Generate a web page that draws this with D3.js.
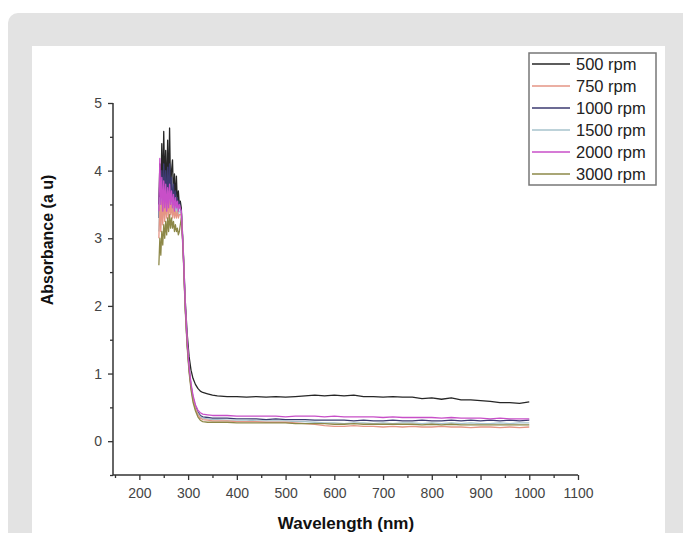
<!DOCTYPE html>
<html>
<head>
<meta charset="utf-8">
<script src="https://cdn.jsdelivr.net/npm/d3@7"></script>
<style>
  body { margin: 0; background: #fff; }
  svg { display: block; font-family: "Liberation Sans", Arial, sans-serif; }
  .axis path, .axis line { stroke: #333; }
  .axis text { fill: #444; font-size: 14px; }
</style>
</head>
<body>
<svg id="chart" width="683" height="533"></svg>
<script>
// wavelength grid (nm)
const wavelengths = [
  240, 242, 244, 246, 248, 250, 252, 254, 256, 258, 260, 262, 264,
  266, 268, 270, 272, 274, 276, 278, 280, 282, 284, 286, 288, 290,
  294, 298, 302, 306, 310, 315, 320, 325, 330, 340, 350,
  360, 380, 400, 420, 440, 460, 480, 500, 520, 540, 560, 580, 600,
  620, 640, 660, 680, 700, 720, 740, 760, 780, 800, 820, 840, 860,
  880, 900, 920, 940, 960, 980, 1000
];

const seriesNames = ['500 rpm', '750 rpm', '1000 rpm', '1500 rpm', '2000 rpm', '3000 rpm'];
const seriesColors = ['#262626', '#e59585', '#3b3a70', '#a7c3cc', '#c84fc8', '#8d8848'];

const abs500 = [
  3.5, 4.1, 3.6, 4.4, 3.7, 4.58, 3.8, 4.3, 3.6, 4.45, 3.7, 4.63, 3.7,
  4.0, 4.16, 3.6, 3.95, 3.55, 3.92, 3.5, 3.7, 3.5, 3.55, 3.45, 3.15, 2.85,
  2.1, 1.6, 1.25, 1.05, 0.93, 0.84, 0.78, 0.74, 0.72, 0.70, 0.68,
  0.67, 0.66, 0.66, 0.65, 0.66, 0.65, 0.66, 0.65, 0.66, 0.67, 0.68, 0.67, 0.68,
  0.67, 0.68, 0.66, 0.66, 0.65, 0.66, 0.65, 0.65, 0.63, 0.64, 0.62, 0.64, 0.61,
  0.61, 0.60, 0.59, 0.57, 0.57, 0.56, 0.58
];
const abs750 = [
  3.0, 3.5, 3.1, 3.55, 3.2, 3.6, 3.25, 3.55, 3.3, 3.6, 3.3, 3.55, 3.35,
  3.5, 3.3, 3.45, 3.3, 3.4, 3.3, 3.4, 3.3, 3.35, 3.35, 3.35, 3.1, 2.8,
  2.0, 1.45, 1.05, 0.8, 0.62, 0.48, 0.39, 0.34, 0.32, 0.31, 0.30,
  0.30, 0.30, 0.29, 0.29, 0.29, 0.28, 0.28, 0.28, 0.27, 0.26, 0.25, 0.23, 0.22,
  0.22, 0.23, 0.22, 0.22, 0.21, 0.22, 0.21, 0.22, 0.21, 0.21, 0.22, 0.21, 0.21,
  0.20, 0.21, 0.21, 0.20, 0.21, 0.20, 0.21
];
const abs1000 = [
  3.3, 3.9, 3.4, 4.0, 3.5, 4.1, 3.6, 4.0, 3.5, 4.05, 3.6, 4.1, 3.55,
  3.9, 3.5, 3.8, 3.45, 3.7, 3.45, 3.6, 3.4, 3.55, 3.45, 3.4, 3.1, 2.8,
  2.0, 1.45, 1.08, 0.82, 0.65, 0.51, 0.43, 0.38, 0.36, 0.35, 0.34,
  0.34, 0.34, 0.33, 0.33, 0.33, 0.32, 0.33, 0.32, 0.32, 0.32, 0.31, 0.31, 0.31,
  0.31, 0.30, 0.31, 0.30, 0.30, 0.31, 0.30, 0.30, 0.31, 0.30, 0.30, 0.31, 0.30,
  0.31, 0.30, 0.31, 0.30, 0.31, 0.30, 0.31
];
const abs1500 = [
  3.1, 3.6, 3.2, 3.7, 3.3, 3.7, 3.35, 3.65, 3.35, 3.7, 3.4, 3.65, 3.4,
  3.6, 3.35, 3.55, 3.35, 3.5, 3.35, 3.45, 3.35, 3.4, 3.4, 3.4, 3.1, 2.8,
  2.0, 1.45, 1.06, 0.8, 0.63, 0.49, 0.41, 0.36, 0.34, 0.33, 0.32,
  0.32, 0.31, 0.31, 0.31, 0.30, 0.30, 0.30, 0.30, 0.29, 0.29, 0.28, 0.27, 0.27,
  0.26, 0.27, 0.27, 0.26, 0.27, 0.26, 0.27, 0.27, 0.26, 0.27, 0.26, 0.27, 0.26,
  0.27, 0.26, 0.26, 0.27, 0.26, 0.27, 0.27
];
const abs2000 = [
  3.4, 4.18, 3.5, 3.9, 3.4, 3.85, 3.45, 3.8, 3.4, 3.75, 3.45, 3.8, 3.5,
  3.7, 3.45, 3.65, 3.4, 3.6, 3.45, 3.55, 3.4, 3.5, 3.45, 3.4, 3.1, 2.8,
  2.05, 1.5, 1.1, 0.85, 0.68, 0.54, 0.46, 0.42, 0.40, 0.39, 0.38,
  0.38, 0.38, 0.37, 0.37, 0.37, 0.37, 0.37, 0.36, 0.37, 0.37, 0.37, 0.36, 0.37,
  0.36, 0.36, 0.36, 0.36, 0.35, 0.36, 0.35, 0.35, 0.35, 0.35, 0.34, 0.35, 0.34,
  0.34, 0.34, 0.33, 0.34, 0.33, 0.33, 0.33
];
const abs3000 = [
  2.6, 3.0, 2.75, 3.1, 2.9, 3.2, 3.0, 3.25, 3.05, 3.3, 3.1, 3.35, 3.15,
  3.3, 3.15, 3.25, 3.1, 3.2, 3.1, 3.15, 3.05, 3.1, 3.2, 3.3, 3.05, 2.75,
  1.95, 1.4, 1.02, 0.76, 0.58, 0.45, 0.36, 0.31, 0.29, 0.28, 0.28,
  0.28, 0.28, 0.27, 0.27, 0.27, 0.27, 0.27, 0.27, 0.26, 0.26, 0.26, 0.26, 0.25,
  0.25, 0.26, 0.25, 0.25, 0.25, 0.25, 0.25, 0.25, 0.24, 0.25, 0.24, 0.25, 0.24,
  0.24, 0.24, 0.24, 0.24, 0.24, 0.24, 0.24
];
const seriesValues = [abs500, abs750, abs1000, abs1500, abs2000, abs3000];

// order lines are painted in (index into the arrays above)
const drawOrder = [0, 2, 3, 1, 5, 4];

const xTicks = [200, 300, 400, 500, 600, 700, 800, 900, 1000, 1100];
const xMinor = [150, 250, 350, 450, 550, 650, 750, 850, 950, 1050];
const yTicks = [0, 1, 2, 3, 4, 5];
const yMinor = [-0.5, 0.5, 1.5, 2.5, 3.5, 4.5];

const svg = d3.select('#chart');

// grey card + white picture area
svg.append('rect').attr('x', 8).attr('y', 13).attr('width', 720).attr('height', 560)
  .attr('rx', 10).attr('fill', '#e3e3e3');
svg.append('rect').attr('x', 32).attr('y', 46).attr('width', 633).attr('height', 500)
  .attr('fill', '#fff');

const x = d3.scaleLinear().domain([150, 1100]).range([115, 578]);
const y = d3.scaleLinear().domain([-0.5, 5]).range([475, 103]);

// minor ticks first, then major axes on top
svg.append('g').attr('class', 'axis').attr('transform', 'translate(0,475)')
  .call(d3.axisBottom(x).tickValues(xMinor).tickSize(3).tickFormat(''))
  .call((g) => g.select('.domain').remove());
svg.append('g').attr('class', 'axis').attr('transform', 'translate(113,0)')
  .call(d3.axisLeft(y).tickValues(yMinor).tickSize(3).tickFormat(''))
  .call((g) => g.select('.domain').remove());

const xAxis = svg.append('g').attr('class', 'axis').attr('transform', 'translate(0,475)')
  .call(d3.axisBottom(x).tickValues(xTicks).tickFormat(d3.format('d'))
    .tickSize(5).tickSizeOuter(0).tickPadding(8));
const yAxis = svg.append('g').attr('class', 'axis').attr('transform', 'translate(113,0)')
  .call(d3.axisLeft(y).tickValues(yTicks).tickFormat(d3.format('d'))
    .tickSize(5).tickSizeOuter(0).tickPadding(6));
xAxis.select('.domain').attr('d', `M113,0H${x(1100)}`).attr('stroke-width', 1.5);
yAxis.select('.domain').attr('d', `M0,${y(5)}V475`).attr('stroke-width', 1.5);
svg.selectAll('.axis line').attr('stroke-width', 1.3);

// spectra
const line = d3.line()
  .x((d) => x(d[0]))
  .y((d) => y(d[1]));

svg.append('g')
  .selectAll('path')
  .data(drawOrder)
  .join('path')
  .attr('d', (i) => line(wavelengths.map((w, j) => [w, seriesValues[i][j]])))
  .attr('fill', 'none')
  .attr('stroke', (i) => seriesColors[i])
  .attr('stroke-width', 1.3)
  .attr('stroke-linejoin', 'round');

// axis titles
svg.append('text')
  .attr('transform', 'translate(53,240) rotate(-90)')
  .attr('text-anchor', 'middle')
  .attr('font-size', 16)
  .attr('font-weight', 'bold')
  .attr('fill', '#111')
  .text('Absorbance (a u)');
svg.append('text')
  .attr('x', 346).attr('y', 529)
  .attr('text-anchor', 'middle')
  .attr('font-size', 17)
  .attr('font-weight', 'bold')
  .attr('fill', '#111')
  .text('Wavelength (nm)');

// legend
const legend = svg.append('g');
legend.append('rect')
  .attr('x', 529).attr('y', 53).attr('width', 127).attr('height', 132)
  .attr('fill', '#fff').attr('stroke', '#777').attr('stroke-width', 1.5);
const rows = legend.selectAll('g.row')
  .data(seriesNames)
  .join('g')
  .attr('class', 'row')
  .attr('transform', (d, i) => `translate(0,${64 + i * 22})`);
rows.append('line')
  .attr('x1', 532).attr('x2', 570)
  .attr('stroke', (d, i) => seriesColors[i])
  .attr('stroke-width', 1.5);
rows.append('text')
  .attr('x', 576).attr('dy', '0.36em')
  .attr('font-size', 16.5)
  .attr('fill', '#222')
  .text((d) => d);
</script>
</body>
</html>
